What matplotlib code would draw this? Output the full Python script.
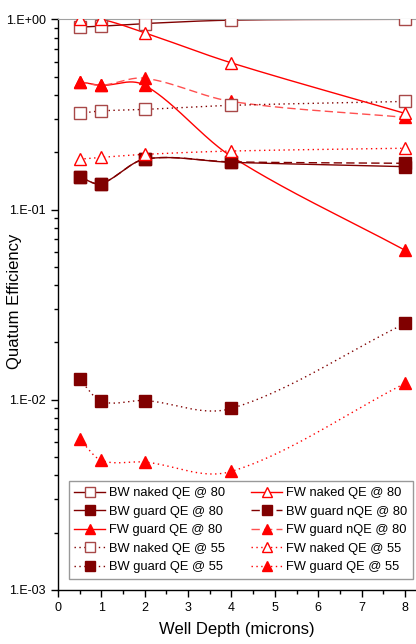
import numpy as np
import matplotlib
matplotlib.use('Agg')
import matplotlib.pyplot as plt
from matplotlib.ticker import FixedLocator, FuncFormatter, LogLocator, MultipleLocator

plt.rcParams['font.family'] = ['Liberation Sans', 'DejaVu Sans']

# datos
depth = [0.5, 1, 2, 4, 8]
bw_naked_80 = [0.91, 0.92, 0.95, 0.99, 1.0]
fw_naked_80 = [1.0, 1.0, 0.85, 0.59, 0.32]
bw_guard_80 = [0.148, 0.137, 0.184, 0.177, 0.168]
bw_guard_n80 = [0.148, 0.137, 0.184, 0.178, 0.175]
fw_guard_80 = [0.47, 0.45, 0.45, 0.19, 0.061]
fw_guard_n80 = [0.47, 0.45, 0.49, 0.37, 0.305]
bw_naked_55 = [0.32, 0.33, 0.336, 0.353, 0.37]
fw_naked_55 = [0.184, 0.188, 0.195, 0.203, 0.21]
bw_guard_55 = [0.0128, 0.0098, 0.0099, 0.0090, 0.0252]
fw_guard_55 = [0.0062, 0.0048, 0.0047, 0.0042, 0.0122]

DARK = '#800000'
SQ_EDGE = '#a84848'
RED = '#ff0000'


def spline(x, y, n=60):
    # curva suave tipo Catmull-Rom (hermite) sobre x lineal / y logaritmica
    x = np.asarray(x, float)
    ly = np.log10(np.asarray(y, float))
    m = np.zeros(len(x))
    m[0] = (ly[1] - ly[0]) / (x[1] - x[0])
    m[-1] = (ly[-1] - ly[-2]) / (x[-1] - x[-2])
    m[1:-1] = (ly[2:] - ly[:-2]) / (x[2:] - x[:-2])
    xs_all, ys_all = [], []
    for i in range(len(x) - 1):
        h = x[i + 1] - x[i]
        t = np.linspace(0, 1, n)
        h00 = 2 * t ** 3 - 3 * t ** 2 + 1
        h10 = t ** 3 - 2 * t ** 2 + t
        h01 = -2 * t ** 3 + 3 * t ** 2
        h11 = t ** 3 - t ** 2
        xs_all.append(x[i] + t * h)
        ys_all.append(h00 * ly[i] + h10 * h * m[i] + h01 * ly[i + 1] + h11 * h * m[i + 1])
    return np.concatenate(xs_all), 10 ** np.concatenate(ys_all)


series = [
    # (datos, etiqueta, color linea, marcador, relleno, borde, estilo)
    (bw_naked_80, 'BW naked QE @ 80', DARK, 's', 'white', SQ_EDGE, '-'),
    (fw_naked_80, 'FW naked QE @ 80', RED, '^', 'white', RED, '-'),
    (bw_guard_80, 'BW guard QE @ 80', DARK, 's', DARK, DARK, '-'),
    (bw_guard_n80, 'BW guard nQE @ 80', DARK, 's', DARK, DARK, (0, (6, 3))),
    (fw_guard_80, 'FW guard QE @ 80', RED, '^', RED, RED, '-'),
    (fw_guard_n80, 'FW guard nQE @ 80', '#ff5050', '^', RED, RED, (0, (6, 3))),
    (bw_naked_55, 'BW naked QE @ 55', DARK, 's', 'white', SQ_EDGE, (0, (1, 2.5))),
    (fw_naked_55, 'FW naked QE @ 55', RED, '^', 'white', RED, (0, (1, 2.5))),
    (bw_guard_55, 'BW guard QE @ 55', DARK, 's', DARK, DARK, (0, (1, 2.5))),
    (fw_guard_55, 'FW guard QE @ 55', RED, '^', RED, RED, (0, (1, 2.5))),
]

fig = plt.figure(figsize=(4.16, 6.44), dpi=100)
ax = fig.add_axes([0.139, 0.084, 0.861, 0.886])

handles = {}
# primero las rellenas y despues las abiertas (quedan encima)
order = [4, 5, 2, 3, 8, 9, 0, 6, 1, 7]
for idx in order:
    vals, lab, col, mk, fc, ec, ls = series[idx]
    xs, ys = spline(depth, vals)
    ax.plot(xs, ys, color=col, linestyle=ls, linewidth=1.0, zorder=2)
    ax.plot(depth, vals, linestyle='none', marker=mk, markersize=8,
            markerfacecolor=fc, markeredgecolor=ec, markeredgewidth=1.0, zorder=3)
    h, = ax.plot([], [], color=col, linestyle=ls, linewidth=1.0, marker=mk,
                 markersize=7.5, markerfacecolor=fc, markeredgecolor=ec,
                 markeredgewidth=1.0, label=lab)
    handles[idx] = h

ax.set_yscale('log')
ax.set_ylim(1e-3, 1.0)
ax.set_xlim(0, 8.25)

ax.yaxis.set_major_locator(FixedLocator([1e-3, 1e-2, 1e-1, 1e0]))
ax.yaxis.set_minor_locator(LogLocator(base=10, subs=np.arange(2, 10)))
ax.yaxis.set_major_formatter(FuncFormatter(lambda v, p: '1.E%+03d' % int(round(np.log10(v)))))
ax.yaxis.set_minor_formatter(FuncFormatter(lambda v, p: ''))
ax.xaxis.set_major_locator(MultipleLocator(1))
ax.xaxis.set_minor_locator(MultipleLocator(0.5))

ax.tick_params(which='major', direction='out', length=5, width=1, labelsize=9, colors='black')
ax.tick_params(which='minor', direction='out', length=3, width=1)

ax.spines['right'].set_visible(False)
ax.spines['top'].set_color('#a0a0a0')
for s in ['left', 'bottom']:
    ax.spines[s].set_linewidth(1.0)

ax.set_xlabel('Well Depth (microns)', fontsize=12, labelpad=6)
ax.set_ylabel('Quatum Efficiency', fontsize=12)
ax.yaxis.set_label_coords(-0.10, 0.506)

# la leyenda de Origin va por filas
leg_order = [0, 2, 4, 6, 8, 1, 3, 5, 7, 9]
leg = ax.legend([handles[i] for i in leg_order], [series[i][1] for i in leg_order],
                ncol=2, loc='lower right', bbox_to_anchor=(0.992, 0.019),
                borderaxespad=0, fontsize=9.3, frameon=True, fancybox=False,
                edgecolor='#808080', handlelength=2.4, handletextpad=0.3,
                columnspacing=2.0, labelspacing=0.5, borderpad=0.45)
leg.get_frame().set_linewidth(1.0)

fig.savefig('out.png', dpi=100)
